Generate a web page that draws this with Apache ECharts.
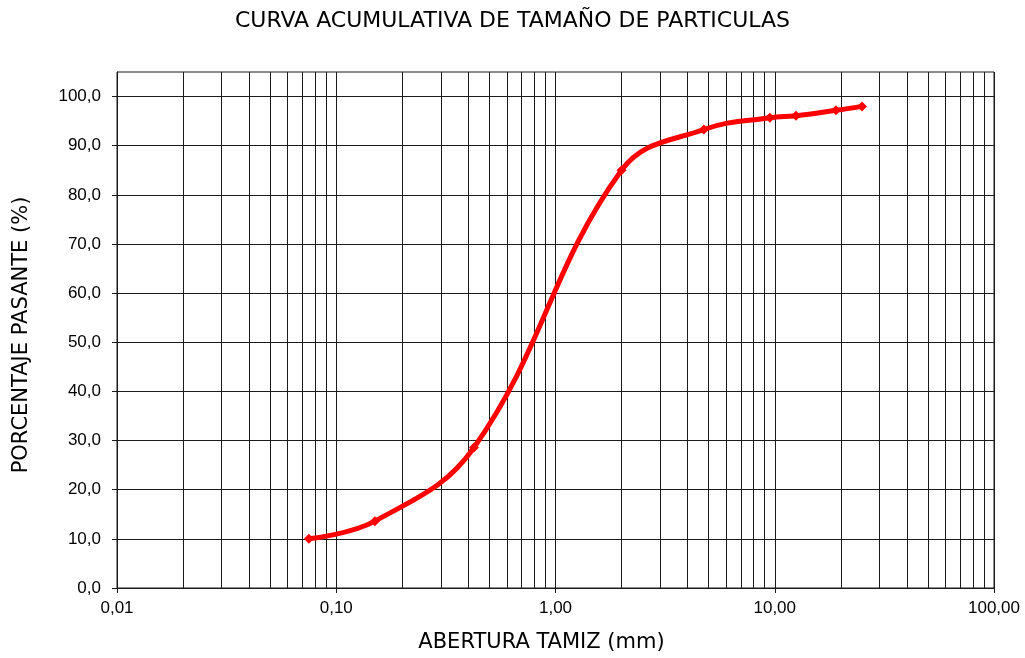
<!DOCTYPE html>
<html><head><meta charset="utf-8">
<script src="https://cdn.jsdelivr.net/npm/echarts@6/dist/echarts.min.js"></script>
<style>html,body{margin:0;padding:0;background:#fff}#c{width:1025px;height:658px}</style>
</head><body><div id="c"></div>
<script>
const titleText = 'CURVA ACUMULATIVA DE TAMAÑO DE PARTICULAS';
const xName = 'ABERTURA TAMIZ (mm)';
const yName = 'PORCENTAJE PASANTE (%)';
const sieveOpening = [0.075, 0.15, 0.425, 2.0, 4.75, 9.5, 12.5, 19.0, 25.0];
const percentPassing = [10.0, 13.6, 28.6, 85.0, 93.3, 95.7, 96.1, 97.2, 98.0];
const yTickValues = [0, 10, 20, 30, 40, 50, 60, 70, 80, 90, 100];
const xMinorGrid = [0.02,0.03,0.04,0.05,0.06,0.07,0.08,0.09,
  0.2,0.3,0.4,0.5,0.6,0.7,0.8,0.9,
  2,3,4,5,6,7,8,9,
  20,30,40,50,60,70,80,90];

const fmt = (v, d) => v.toFixed(d).replace('.', ',');
const gridColor = '#1a1a1a';
const nameFont = 'DejaVu Sans';
const chart = echarts.init(document.getElementById('c'));
chart.setOption({
  animation: false,
  title: {text: titleText, left: 'center', top: 5,
    textStyle: {fontFamily: nameFont, fontWeight: 'normal', fontSize: 22, color: '#000'}},
  grid: {left: 117, right: 31, top: 72, bottom: 69, show: true, borderColor: gridColor, borderWidth: 1},
  xAxis: {
    type: 'log', logBase: 10, min: 0.01, max: 100,
    name: xName, nameLocation: 'middle', nameGap: 44,
    nameTextStyle: {fontFamily: nameFont, fontSize: 21, color: '#000', padding: [0, 28, 0, 0]},
    axisLine: {lineStyle: {color: gridColor, width: 1}},
    axisTick: {show: true, length: 5, lineStyle: {color: gridColor}},
    axisLabel: {formatter: v => fmt(v, 2), fontFamily: 'Liberation Sans', fontSize: 17, color: '#000', margin: 12},
    splitLine: {show: true, lineStyle: {color: gridColor, width: 1}}
  },
  yAxis: {
    type: 'value', min: 0, max: 105, interval: 5,
    name: yName, nameLocation: 'middle', nameGap: 85,
    nameTextStyle: {fontFamily: nameFont, fontSize: 21, color: '#000', padding: [0, 10, 0, 0]},
    axisLine: {show: true, lineStyle: {color: gridColor, width: 1}},
    axisTick: {show: true, length: 5, customValues: yTickValues, lineStyle: {color: gridColor}},
    axisLabel: {customValues: yTickValues, formatter: v => fmt(v, 1), fontFamily: 'Liberation Sans', fontSize: 17, color: '#000', margin: 16},
    splitLine: {show: true, lineStyle: {color: gridColor, width: 1}}
  },
  series: [{
    type: 'line',
    data: sieveOpening.map((x, i) => [x, percentPassing[i]]),
    smooth: 0.4,
    symbol: 'diamond', symbolSize: 10,
    itemStyle: {color: '#ff0000'},
    lineStyle: {color: '#ff0000', width: 5},
    z: 5,
    markLine: {
      silent: true, symbol: 'none', label: {show: false},
      lineStyle: {type: 'solid', color: gridColor, width: 1},
      z: 1,
      data: xMinorGrid.map(v => ({xAxis: v}))
    }
  }]
});
</script></body></html>
